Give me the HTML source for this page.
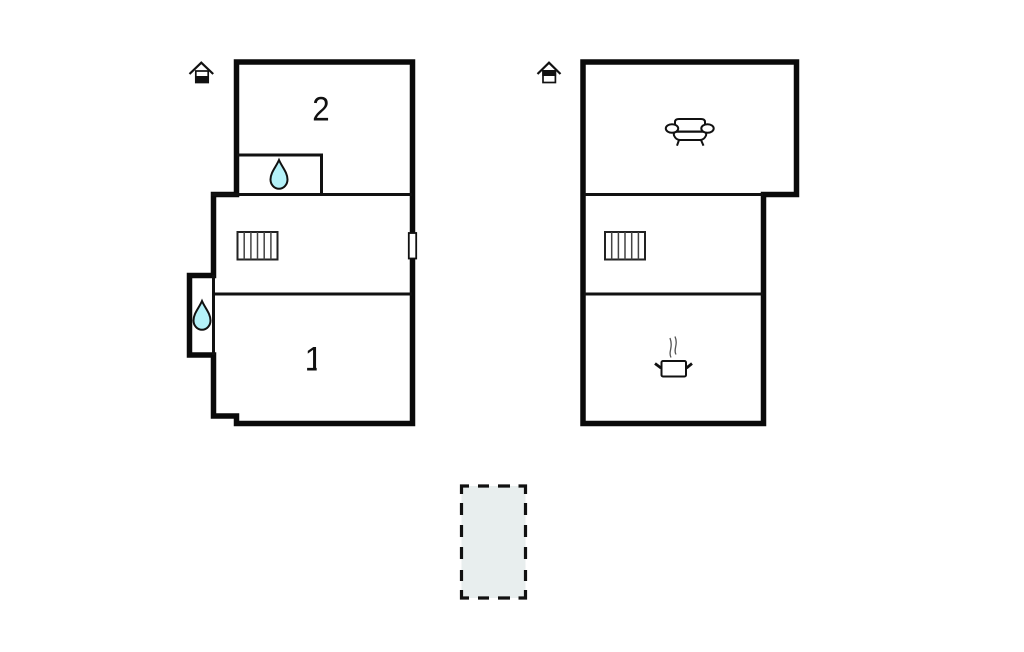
<!DOCTYPE html>
<html><head><meta charset="utf-8"><style>
html,body{margin:0;padding:0;background:#fff}
svg{display:block}
text{font-family:"Liberation Sans",sans-serif;fill:#111}
</style></head><body>
<svg width="1024" height="652" viewBox="0 0 1024 652" xmlns="http://www.w3.org/2000/svg">
<defs>
<g id="rad" fill="none"><rect x="0" y="0" width="40" height="27.500" stroke-width="2" stroke="#222" fill="#fff"/><path d="M6.700 0V27.500M13.400 0V27.500M20 0V27.500M26.700 0V27.500M33.400 0V27.500" stroke-width="1.500" stroke="#444"/></g>
<path id="drop" d="M0 -16C3 -9 8.500 -3.500 8.500 3.500A8.500 9.300 0 0 1 -8.500 3.500C-8.500 -3.500 -3 -9 0 -16Z" fill="#b4f1f8" stroke="#111" stroke-width="2"/>
<clipPath id="one"><rect x="305" y="340" width="11.700" height="35"/></clipPath>
</defs>
<!-- left plan -->
<path d="M236.500 194.500V62H412.500V423.500H236.500V416H213.500V355H189.500V275.500H213.500V194.500Z" fill="#fff" stroke="#0a0a0a" stroke-width="5.500" stroke-linejoin="miter"/>
<path d="M211 194.500H412M213.500 275V355M213 294H412M237 155H321.500V194.500" fill="none" stroke="#111" stroke-width="3"/>
<rect x="408.800" y="233" width="7.400" height="25.500" fill="#fff" stroke="#111" stroke-width="1.800"/>
<use href="#rad" x="237.500" y="232"/>
<use href="#drop" x="279" y="176"/>
<use href="#drop" x="202" y="317"/>
<text transform="translate(321 120.700) scale(.92 1)" font-size="34" text-anchor="middle">2</text>
<g clip-path="url(#one)"><text x="314" y="370.700" font-size="34" text-anchor="middle">1</text></g>
<!-- left house icon -->
<path d="M189.500 74L201.300 62.700L213.200 74" fill="none" stroke="#111" stroke-width="2.200"/>
<rect x="195.800" y="71" width="12.400" height="11.500" fill="#fff" stroke="#111" stroke-width="1.700"/>
<rect x="195" y="76" width="14" height="7" fill="#111"/>
<!-- right plan -->
<path d="M583 62H796.500V194.500H763.500V423.500H583Z" fill="#fff" stroke="#0a0a0a" stroke-width="5.500" stroke-linejoin="miter"/>
<path d="M584 194.500H763M584 294H763" fill="none" stroke="#111" stroke-width="3"/>
<use href="#rad" x="605" y="232"/>
<!-- right house icon -->
<path d="M537.500 74L549 62.700L560.500 74" fill="none" stroke="#111" stroke-width="2.200"/>
<rect x="543" y="71" width="12.400" height="11.500" fill="#fff" stroke="#111" stroke-width="1.700"/>
<rect x="542.300" y="70" width="13.800" height="6" fill="#111"/>
<!-- sofa -->
<g fill="#fff" stroke="#111" stroke-width="2">
<path d="M675 127V122Q675 119 679 119H701Q705 119 705 122V127V131.500H675Z"/>
<path d="M677 131.800H703Q707 132 706 135.500Q704 140 700 140H680Q676 140 674 135.500Q673 132 677 131.800Z"/>
<ellipse cx="672" cy="128.500" rx="6.200" ry="4.300"/>
<ellipse cx="707.500" cy="128.500" rx="6.200" ry="4.300"/>
<path d="M679 140L677 145.700M701 140L703.500 145.700" fill="none"/>
</g>
<!-- pot -->
<rect x="661.500" y="361" width="24.500" height="15.500" rx="1.500" fill="#fff" stroke="#111" stroke-width="2"/>
<path d="M661 368L655 363.500M686.500 368L692 363.500" stroke="#111" stroke-width="2.800" fill="none"/>
<path d="M671 357.500C668 351 673.500 348 670 338M676 354.500C673 349 678.500 345 675 336.500" fill="none" stroke="#555" stroke-width="1.300"/>
<!-- dashed -->
<rect x="461.500" y="486" width="64" height="112" fill="#e8eeee"/>
<path d="M461.500 494V486H469M478 486H489M498 486H510M518.500 486H525.500V494M525.500 503V515M525.500 525V537M525.500 547V559M525.500 570V581M525.500 590V598H518.500M510 598H498M489 598H478M469 598H461.500V590M461.500 581V570M461.500 559V547M461.500 537V525M461.500 515V503" fill="none" stroke="#111" stroke-width="3.200"/>
</svg>
</body></html>
